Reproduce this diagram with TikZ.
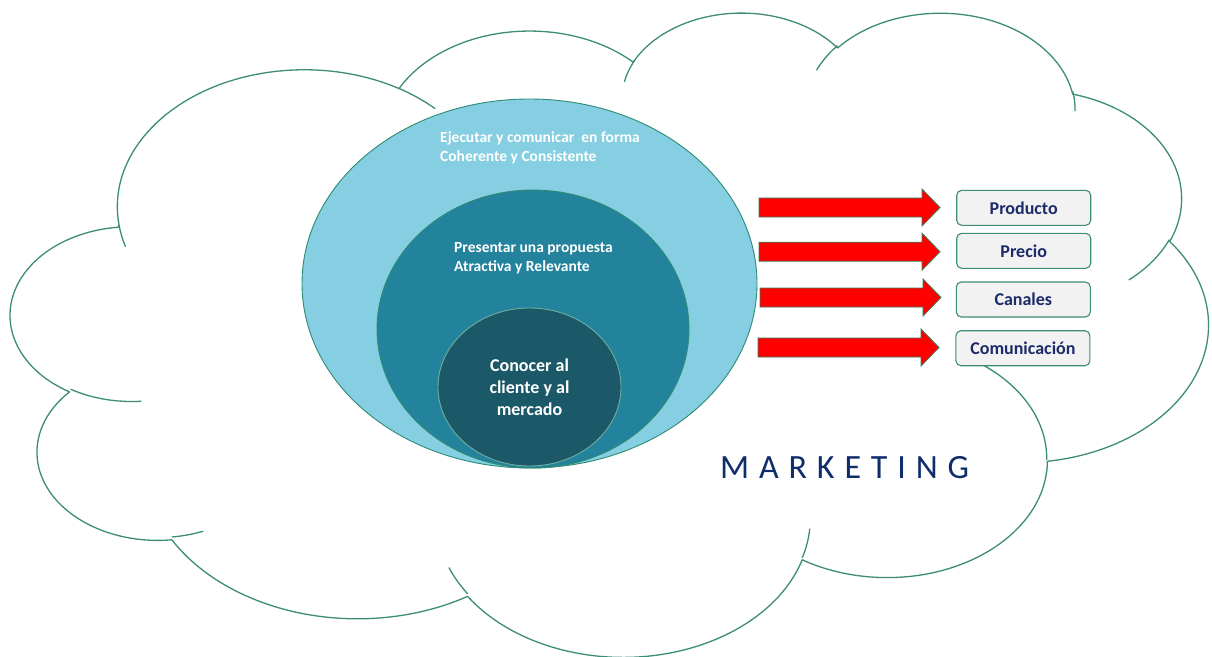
\documentclass[tikz,border=0pt]{standalone}
\usepackage{fontspec}
\setmainfont{Carlito}
\newfontfamily\mkfont[LetterSpace=29]{Carlito}
\usetikzlibrary{shapes.geometric}
\definecolor{cloudgreen}{HTML}{3C8C78}
\definecolor{ringline}{HTML}{2E8B74}
\definecolor{outerfill}{HTML}{86CEE1}
\definecolor{midfill}{HTML}{24839C}
\definecolor{innerfill}{HTML}{1B5868}
\definecolor{arrowred}{HTML}{FF0000}
\definecolor{arrowline}{HTML}{3A7D5E}
\definecolor{boxfill}{HTML}{F2F2F2}
\definecolor{boxline}{HTML}{3C8C78}
\definecolor{navy}{HTML}{1C2B69}
\definecolor{mknavy}{HTML}{0F2D6B}
% visual angle (OOXML arcTo) -> parametric start/end angles
\newcommand\arcang[4]{%
  \pgfmathsetmacro\angS{atan2((#1)*sin(#3),(#2)*cos(#3))}%
  \pgfmathsetmacro\angE{atan2((#1)*sin((#3)+(#4)),(#2)*cos((#3)+(#4)))}%
  \pgfmathsetmacro\angE{\angE<\angS ? \angE+360 : \angE}%
}
\begin{document}
\begin{tikzpicture}[x=1pt,y=-1pt,
  cloudline/.style={draw=cloudgreen, line width=1.3pt, line cap=round, line join=round},
  ring/.style={ellipse, draw=ringline, line width=0.9pt, inner sep=0pt},
  circtext/.style={text=white, font=\bfseries\fontsize{15.5}{19}\selectfont, align=left, inner sep=0pt, anchor=base west},
  mixbox/.style={draw=boxline, fill=boxfill, line width=1.1pt, rounded corners=5pt, minimum width=134pt, minimum height=35pt, inner sep=0pt, text=navy, font=\bfseries\fontsize{18}{22}\selectfont},
  blockarrow/.pic={\path[draw=arrowline, fill=arrowred, line width=0.8pt] (0,-9.5) -- (163,-9.5) -- (163,-18.5) -- (181,0) -- (163,18.5) -- (163,9.5) -- (0,9.5) -- cycle;}
]
\useasboundingbox (0,0) rectangle (1212,656);
\fill[white] (0,0) rectangle (1212,656);

% ---- cloud (outline arcs + inner tails), units of 10 shape units
\arcang{675.3}{919.0}{-190.4875}{123.7805}\let\csa\angS\let\cea\angE
\arcang{533.3}{726.7}{-144.10238}{89.94523}\let\csb\angS\let\ceb\angE
\arcang{436.5}{594.5}{-145.80792}{99.72302}\let\csc\angS\let\cec\angE
\arcang{485.7}{659.5}{-130.98607}{117.24173}\let\csd\angS\let\ced\angE
\arcang{533.3}{727.3}{-78.70888}{109.02692}\let\cse\angS\let\cee\angE
\arcang{677.5}{922.0}{-46.26725}{130.269}\let\csf\angS\let\cef\angE
\arcang{578.5}{786.7}{0.62502}{114.03333}\let\csg\angS\let\ceg\angE
\arcang{675.2}{921.5}{22.4516}{115.17255}\let\csh\angS\let\ceh\angE
\arcang{772.0}{1054.3}{66.24263}{75.71102}\let\csi\angS\let\cei\angE
\arcang{436.0}{591.8}{-274.94208}{146.73557}\let\csj\angS\let\cej\angE
\arcang{434.5}{594.5}{-246.8285}{152.51885}\let\csk\angS\let\cek\angE
\begin{scope}[shift={(11pt,-11pt)}, x=0.277083pt, y=-0.149074pt]
\draw[cloudline] (390,1437)
  arc[start angle=\csa, end angle=\cea, x radius=675.3, y radius=919.0]
  arc[start angle=\csb, end angle=\ceb, x radius=533.3, y radius=726.7]
  arc[start angle=\csc, end angle=\cec, x radius=436.5, y radius=594.5]
  arc[start angle=\csd, end angle=\ced, x radius=485.7, y radius=659.5]
  arc[start angle=\cse, end angle=\cee, x radius=533.3, y radius=727.3]
  arc[start angle=\csf, end angle=\cef, x radius=677.5, y radius=922.0]
  arc[start angle=\csg, end angle=\ceg, x radius=578.5, y radius=786.7]
  arc[start angle=\csh, end angle=\ceh, x radius=675.2, y radius=921.5]
  arc[start angle=\csi, end angle=\cei, x radius=772.0, y radius=1054.3]
  arc[start angle=\csj, end angle=\cej, x radius=436.0, y radius=591.8]
  arc[start angle=\csk, end angle=\cek, x radius=434.5, y radius=594.5] -- cycle;
\arcang{434.5}{594.5}{86.742}{26.4295}
\draw[cloudline] (469.3,2617.7) arc[start angle=\angS, end angle=\angE, x radius=434.5, y radius=594.5];
\arcang{436.0}{591.8}{73.61047}{11.44747}
\draw[cloudline] (692.8,3489.9) arc[start angle=\angS, end angle=\angE, x radius=436.0, y radius=591.8];
\arcang{675.2}{921.5}{137.62415}{14.0811}
\draw[cloudline] (1647.8,3909.0) arc[start angle=\angS, end angle=\angE, x radius=675.2, y radius=921.5];
\arcang{675.2}{921.5}{6.45327}{15.99835}
\draw[cloudline] (2882.7,3475.1) arc[start angle=\angS, end angle=\angE, x radius=675.2, y radius=921.5];
\arcang{578.5}{786.7}{-70.29235}{70.91737}
\draw[cloudline] (3412.9,2295.4) arc[start angle=\angS, end angle=\angE, x radius=578.5, y radius=786.7];
\arcang{533.3}{727.3}{30.31803}{27.7515}
\draw[cloudline] (4179.8,1535.4) arc[start angle=\angS, end angle=\angE, x radius=533.3, y radius=727.3];
\arcang{485.7}{659.5}{-13.74433}{14.8589}
\draw[cloudline] (3832.4,542.6) arc[start angle=\angS, end angle=\angE, x radius=485.7, y radius=659.5];
\arcang{485.7}{659.5}{-149.18145}{18.19537}
\draw[cloudline] (2907.8,395.2) arc[start angle=\angS, end angle=\angE, x radius=485.7, y radius=659.5];
\arcang{436.5}{594.5}{-163.49427}{17.68635}
\draw[cloudline] (2214.1,472.0) arc[start angle=\angS, end angle=\angE, x radius=436.5, y radius=594.5];
\arcang{675.3}{919.0}{-66.70695}{12.31935}
\draw[cloudline] (1400.0,519.2) arc[start angle=\angS, end angle=\angE, x radius=675.3, y radius=919.0];
\arcang{675.3}{919.0}{157.65435}{11.85817}
\draw[cloudline] (412.7,1578.9) arc[start angle=\angS, end angle=\angE, x radius=675.3, y radius=919.0];
\end{scope}

% ---- nested ellipses
\node[ring, fill=outerfill, minimum width=455pt, minimum height=369pt] (outer) at (529.5,283.5) {};
\node[ring, fill=midfill, minimum width=312pt, minimum height=278pt] (middle) at (533,329) {};
\node[ring, fill=innerfill, draw=ringline!70!white, minimum width=183pt, minimum height=158pt,
      text=white, font=\bfseries\fontsize{18}{22}\selectfont, align=center] (inner) at (529.5,387)
      {Conocer al\\cliente y al\\mercado};

\node[circtext] (ejec) at (440,161.5) {Ejecutar y comunicar\ \ en forma\\Coherente y Consistente};
\node[circtext] (pres) at (454,271.7) {Presentar una propuesta\\Atractiva y Relevante};

% ---- arrows
\pic (a1) at (759,207.5) {blockarrow};
\pic (a2) at (759,251.7) {blockarrow};
\pic (a3) at (760,297.5) {blockarrow};
\pic (a4) at (758,347.5) {blockarrow};

% ---- boxes
\node[mixbox] (producto) at (1023.7,207.8) {Producto};
\node[mixbox] (precio) at (1023.7,250.8) {Precio};
\node[mixbox] (canales) at (1023.3,299.5) {Canales};
\node[mixbox] (comunicacion) at (1022.9,348.2) {Comunicación};

% ---- title
\node[anchor=base west, inner sep=0pt, text=mknavy, font=\mkfont\fontsize{34}{40}\selectfont] (mk) at (720,478.3) {MARKETING};
\end{tikzpicture}
\end{document}
